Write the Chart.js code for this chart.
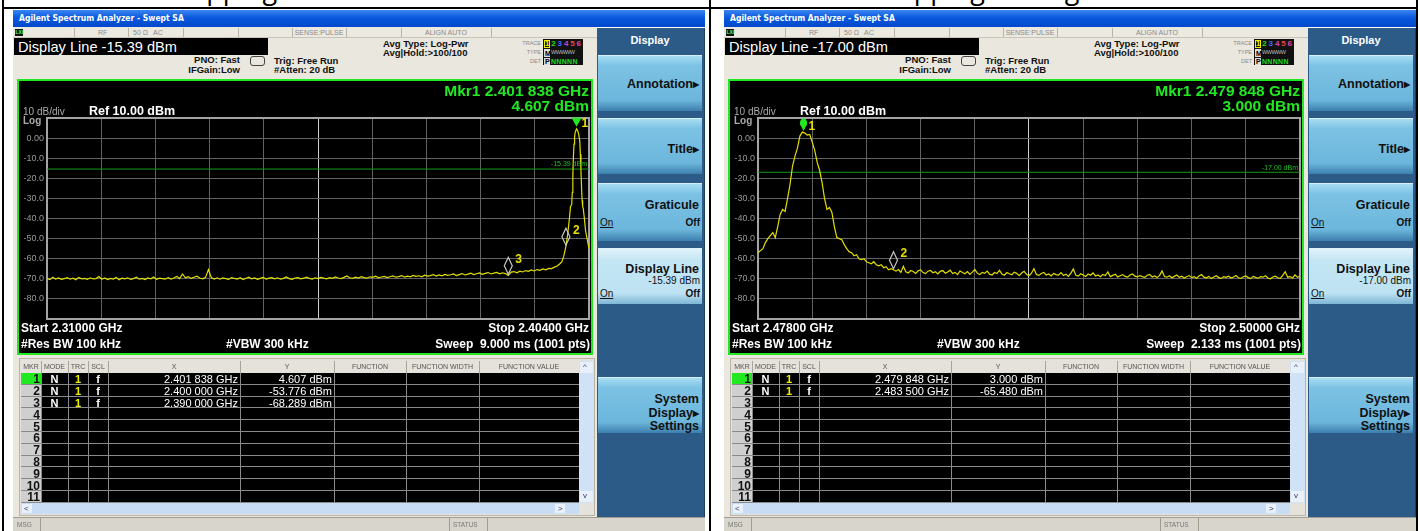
<!DOCTYPE html>
<html><head><meta charset="utf-8">
<script src="https://cdn.jsdelivr.net/npm/chart.js@4.4.0/dist/chart.umd.min.js"></script>
<style>
body{margin:0;background:#fff;}
#page{position:relative;width:1420px;height:531px;overflow:hidden;font-family:"Liberation Sans",Arial,sans-serif;}
.a{position:absolute;white-space:nowrap;}
.scr{position:absolute;top:0;width:711px;height:531px;}
.sk{position:absolute;left:598px;width:104px;background:linear-gradient(#a6dcf2,#7cc2e4 18%,#6cb6dc 80%,#3d7fae);border-top:1px solid #d8f0fa;}
.sk.sel{background:linear-gradient(#e2f3fa,#c4e6f4 20%,#bde2f2 80%,#7fb6d6);}
.skt{position:absolute;right:3px;font-weight:bold;font-size:12.5px;color:#111;text-align:right;}
.tri{font-size:8px;vertical-align:1px;}
.hd{font-size:7px;color:#555;text-align:center;position:absolute;top:361px;height:12px;line-height:12px;}
.info{font-family:"Liberation Sans Narrow","Liberation Sans",Arial;font-weight:bold;font-size:10px;color:#111;}
</style></head><body><div id="page"></div>
<script>
// ---- data ----
const leftTitle = 'Hopping Off Lowest Channel'
const rightTitle = 'Hopping Off Highest Channel'
const leftSpan = [2.310, 2.404]
const rightSpan = [2.478, 2.500]
const levelRange = [-90, 10]

// left trace: noise floor on a 0.5 MHz grid, then the carrier
const leftFloorStart = 2.310
const leftFloorStep = 0.0005
const leftFloorLevels = [-69.8,-70.4,-69.2,-70.1,-69.6,-70.3,-69.9,-69.4,-70.2,-69.7,-70.5,-69.3,-70,-69.8,-70.3,-69.5,-70.1,-69.9,-68.9,-70.2,
-69.6,-70.4,-69.8,-70.1,-69.3,-70.5,-69.7,-70,-69.5,-70.3,-69.9,-69.2,-70.2,-69.8,-70.4,-69.6,-70,-69.1,-70.3,-69.7,
-69.9,-70.2,-69.4,-70.1,-69.6,-68.8,-69.9,-67.6,-69.5,-68.9,-69.8,-69.2,-68.7,-69.6,-70,-69.3,-65.4,-69.4,-70.1,-69.5,
-70.2,-69.6,-69.9,-70.3,-69.4,-69.8,-70.1,-69.5,-70.4,-69.7,-69.2,-70,-69.6,-70.3,-69.8,-69.3,-70.1,-69.7,-69.4,-70,
-69.5,-70.2,-69.8,-69.1,-69.9,-70.3,-69.6,-69.4,-70,-69.7,-69.2,-69.8,-70.1,-69.5,-69.9,-69.3,-69.7,-70,-69.4,-69.8,
-69.1,-69.6,-69.9,-69.3,-68.6,-69.5,-69.8,-69.2,-69.6,-68.9,-69.4,-69.7,-69,-69.3,-68.7,-69.5,-69.1,-68.8,-69.4,-69,
-68.6,-69.2,-68.9,-68.4,-69.1,-68.7,-69,-68.3,-68.8,-68.5,-69,-68.2,-68.7,-68.4,-67.9,-68.6,-68.1,-68.5,-67.8,-68.3,
-68,-67.6,-68.4,-67.9,-67.4,-68.1,-67.7,-67.2,-67.9,-67.5,-67.1,-67.8,-67.3,-66.9,-67.6,-67.2,-66.8,-67.5,-67,-67.4,
-68.3,-66.7,-66.4,-67,-66.2,-66.6,-65.9,-66.3,-65.6,-66.1,-65.4,-65.8,-65.1,-65.5,-64.8,-64.9,-64.2,-63.6,-62.4]
const leftPeakFreqs = [2.3993,2.3996,2.3998,2.4000,2.4003,2.4006,2.4008,2.4010,2.4011,2.4012,2.4013,2.4014,2.4015,2.4016,2.401838,
2.4020,2.4022,2.4024,2.4025,2.4026,2.4027,2.4028,2.4029,2.4030,2.4032,2.4034,2.4036,2.4038,2.4040]
const leftPeakLevels = [-61.5,-59,-56.5,-53.776,-48,-40,-34,-33,-27,-18,-9,-3,0.5,2.8,4.607,
3.9,2.2,-1.5,-8,-16,-24,-31,-34,-35,-40,-46,-49,-52,-55]

// right trace on a 0.1 MHz grid
const rightStart = 2.478
const rightStep = 0.0001
const rightLevels = [-57,-56,-55,-52,-50,-48.5,-47,-49.5,-44,-38,-35.5,-36.5,-30,-23,-14,-9,-5,1,3,2.5,
1.5,1.8,-2,-6,-12,-16,-22,-30,-35.5,-34.5,-37,-44,-49.5,-50,-50.5,-53,-55,-56.5,-57,-58.5,
-58,-60,-60.5,-60,-61.5,-62,-62.5,-61.5,-63,-63.5,-63,-64.5,-64,-65.5,-65,-65.48,
-66.2,-65.4,-66.8,-63.8,-66.5,-67.1,-65.9,-66.4,-67.3,-66,-65.6,-66.9,-67.4,-66.2,-65.8,-67,-66.5,-67.6,-66.3,-65.9,
-67.2,-66.6,-65.7,-67.4,-66.8,-67.9,-66.1,-66.9,-67.5,-66.4,-67.8,-66.7,-65.4,-67.2,-67.9,-66.8,-67.3,-66.2,-67.7,-68.1,
-66.9,-67.4,-65.8,-67.6,-68.2,-66.9,-67.5,-68,-66.7,-67.3,-68.4,-67.1,-66.3,-67.8,-68.5,-67.2,-64.9,-67.9,-68.3,-67.4,
-66.8,-68.1,-67.6,-68.6,-67.3,-67.9,-68.2,-66.9,-68.4,-67.7,-68.8,-67.2,-65.1,-68.3,-68.7,-67.5,-68.1,-68.9,-67.6,-68.2,
-67.1,-68.6,-68.1,-69,-67.8,-68.4,-66.6,-68.9,-68.3,-67.7,-69.1,-68.5,-67.9,-68.8,-69.2,-68.1,-67.6,-68.7,-69,-68.4,
-68.9,-69.3,-68.2,-67.8,-69.1,-68.6,-69.4,-68.3,-66.1,-68.9,-69.2,-68.5,-69.5,-68.8,-68.1,-69.3,-68.7,-69.6,-69,-68.4,
-69.4,-68.9,-69.7,-68.6,-67.9,-69.2,-69.5,-68.8,-69.9,-69.1,-68.5,-69.4,-69.8,-68.9,-69.3,-68.7,-69.6,-69.1,-68.4,-69.5,
-69.8,-69,-68.6,-69.4,-69.9,-68.8,-69.3,-69.7,-68.9,-69.2,-68.5,-69.6,-70,-69.1,-68.7,-69.5,-69.8,-68.3,-66.5,-69.2,-68.9,-69.6,-68.1,-69.3,-68.7]

const leftMarkerFreqs = [2.401838, 2.400000, 2.390000]
const leftMarkerLevels = [4.607, -53.776, -68.289]
const rightMarkerFreqs = [2.479848, 2.483500]
const rightMarkerLevels = [3.000, -65.480]
const leftDisplayLine = -15.39
const rightDisplayLine = -17.00
const leftSweep = '9.000 ms'
const rightSweep = '2.133 ms'

const leftTrace = leftFloorLevels.map((v, i) => ({x: leftFloorStart + i * leftFloorStep, y: v}))
    .concat(leftPeakFreqs.map((f, i) => ({x: f, y: leftPeakLevels[i]})))
const rightTrace = rightLevels.map((v, i) => ({x: rightStart + i * rightStep, y: v}))

const GREEN = '#22e822'
const W = 711

var fmtGHz = f => { var s = f.toFixed(6); return s.slice(0, 5) + ' ' + s.slice(5) + ' GHz' }
var fmtDbm = v => v.toFixed(3) + ' dBm'

// text helpers (cy = vertical centre)
function T(x, cy, s, fs, st) { return `<div class="a" style="left:${x}px;top:${cy - (fs + 2) / 2}px;font-size:${fs}px;line-height:${fs + 2}px;${st || ''}">${s}</div>` }
function R(x, cy, s, fs, st) { return `<div class="a" style="right:${W - x}px;top:${cy - (fs + 2) / 2}px;font-size:${fs}px;line-height:${fs + 2}px;${st || ''}">${s}</div>` }
function Cn(x, cy, s, fs, st) { return `<div class="a" style="left:${x - 100}px;width:200px;text-align:center;top:${cy - (fs + 2) / 2}px;font-size:${fs}px;line-height:${fs + 2}px;${st || ''}">${s}</div>` }
function Bx(x, y, w, h, st) { return `<div class="a" style="left:${x}px;top:${y}px;width:${w}px;height:${h}px;${st || ''}"></div>` }
var info = s => s.replace('class="a"', 'class="a info"')

function screenHtml(cfg) {
    var h = ''
    // title bar
    h += Bx(13, 10, 692, 17, 'background:linear-gradient(#3b86f2,#0a58dc 45%,#0048cc);')
    h += T(19, 18.5, 'Agilent Spectrum Analyzer - Swept SA', 8.5, 'color:#fff;font-weight:bold;font-family:\'DejaVu Sans Condensed\',\'Liberation Sans Narrow\',sans-serif;')
    // beige body
    h += Bx(13, 27, 584, 490, 'background:#e9e7de;')
    // status row
    h += Bx(13, 28, 584, 9, 'background:#ece9e0;border-bottom:1px solid #c8c4b8;')
    ;[74, 128, 183, 238, 292, 346, 401, 491].forEach(x => { h += Bx(x, 28, 1, 9, 'background:#b8b4a8;') })
    h += Bx(15, 29, 8, 7, 'background:#111;')
    h += T(15.5, 32.5, 'LXI', 5, 'color:#5f5;font-weight:bold;')
    var g = 'color:#8a8a8a;'
    h += T(98, 32.5, 'RF', 7, g) + T(133, 32.5, '50 Ω', 7, g) + T(153, 32.5, 'AC', 7, g)
    h += Cn(319, 32.5, 'SENSE:PULSE', 7, g) + Cn(446, 32.5, 'ALIGN AUTO', 7, g)
    // display line box
    h += Bx(14, 38, 254, 17, 'background:#000;')
    h += T(18, 47, 'Display Line ' + cfg.dl.toFixed(2) + ' dBm', 14.6, 'color:#fff;')
    h += info(R(240, 60, 'PNO: Fast', 9.5))
    h += info(R(240, 70, 'IFGain:Low', 9.5))
    h += Bx(250, 56, 13, 8, 'border:1px solid #444;border-radius:3px;')
    h += info(T(274, 61, 'Trig: Free Run', 9.5))
    h += info(T(274, 70, '#Atten: 20 dB', 9.5))
    h += info(T(383, 44, 'Avg Type: Log-Pwr', 9.5))
    h += info(T(383, 53, 'Avg|Hold:&gt;100/100', 9.5))
    // trace / type / det block
    h += R(541, 44, 'TRACE', 5.5, g) + R(541, 53, 'TYPE', 5.5, g) + R(541, 62, 'DET', 5.5, g)
    h += Bx(543, 39, 40, 26, 'background:#111;')
    h += Bx(544, 40, 6, 8, 'border:1px solid #ee0;box-sizing:border-box;')
    var tc = ['#ee0', '#2d2', '#46f', '#c4c', '#e44', '#e4a']
    tc.forEach((c, i) => { h += T(545 + i * 6.3, 44, String(i + 1), 8, 'color:' + c + ';font-weight:bold;') })
    h += Bx(544, 49, 6, 8, 'background:#ddd;')
    h += T(545, 53, 'M', 7, 'color:#000;font-weight:bold;') + T(551, 53, 'WWWWW', 5.5, 'color:#bbb;letter-spacing:-0.5px;')
    h += Bx(544, 58, 6, 7, 'background:#ddd;')
    h += T(545, 61.5, 'P', 7, 'color:#000;font-weight:bold;') + T(551, 61.5, 'NNNNN', 7, 'color:#2d2;font-weight:bold;letter-spacing:0.3px;')
    // graph box
    h += Bx(17, 79, 576, 276, 'background:#000;border:2px solid ' + GREEN + ';box-sizing:border-box;')
    h += `<canvas id="cv${cfg.id}" width="572" height="272" style="position:absolute;left:19px;top:81px;"></canvas>`
    var gb = 'color:' + GREEN + ';font-weight:bold;'
    h += R(589, 91, 'Mkr1 ' + fmtGHz(cfg.mf[0]), 15.5, gb)
    h += R(589, 106, fmtDbm(cfg.ml[0]), 15.5, gb)
    h += T(23, 112, '10 dB/div', 10, 'color:#aaa;') + T(89, 111, 'Ref 10.00 dBm', 12.5, 'color:#fff;font-weight:bold;')
    h += T(23, 121, 'Log', 10, 'color:#aaa;font-weight:bold;')
    var wb = 'color:#fff;font-weight:bold;'
    h += T(21, 328, 'Start ' + cfg.span[0].toFixed(5) + ' GHz', 12, wb)
    h += R(589, 328, 'Stop ' + cfg.span[1].toFixed(5) + ' GHz', 12, wb)
    h += T(21, 344, '#Res BW 100 kHz', 12, wb) + T(226, 344, '#VBW 300 kHz', 12, wb)
    h += R(590, 344, 'Sweep&nbsp; ' + cfg.sweep + ' (1001 pts)', 12, wb)
    // marker table
    h += Bx(19, 358, 576, 158, 'background:#e4e2da;border:1px solid #b8b4a8;box-sizing:border-box;')
    var cols = [[21, 41], [41, 68], [68, 88], [88, 108], [108, 240], [240, 334], [334, 406], [406, 479], [479, 579]]
    var heads = ['MKR', 'MODE', 'TRC', 'SCL', 'X', 'Y', 'FUNCTION', 'FUNCTION WIDTH', 'FUNCTION VALUE']
    cols.forEach((c, i) => {
        h += `<div class="hd" style="left:${c[0]}px;width:${c[1] - c[0]}px;">${heads[i]}</div>`
        h += Bx(c[1], 361, 1, 142, 'background:#a8a49a;')
    })
    var rowH = 11.8, top0 = 373
    h += Bx(21, top0, 558, 130, 'background:#000;')
    for (var r = 0; r < 11; r++) {
        var y0 = top0 + r * rowH, cy = y0 + rowH / 2 + 0.5
        h += Bx(21, y0, 20, rowH, 'background:' + (r === 0 ? GREEN : '#cfcfcf') + ';')
        h += R(40, cy, String(r + 1), 12, 'color:#111;font-weight:bold;')
        if (r < cfg.mf.length) {
            h += Cn(54.5, cy, 'N', 11, 'color:#fff;font-weight:bold;')
            h += Cn(78, cy, '1', 11, 'color:#ee0;font-weight:bold;')
            h += Cn(98, cy, 'f', 11, 'color:#fff;font-weight:bold;')
            h += R(238, cy, fmtGHz(cfg.mf[r]), 11, 'color:#fff;')
            h += R(332, cy, fmtDbm(cfg.ml[r]), 11, 'color:#fff;')
        }
        h += Bx(21, y0 + rowH - 1, 558, 1, 'background:#8a8a8a;')
    }
    cols.forEach(c => { h += Bx(c[1], top0, 1, 130, 'background:#8a8a8a;') })
    // scrollbars
    h += Bx(579, 361, 15, 142, 'background:#cfe2f6;')
    h += Bx(580, 362, 13, 11, 'background:#e8f0fa;') + T(583, 367, '^', 8, 'color:#336;')
    h += Bx(580, 491, 13, 11, 'background:#e8f0fa;') + T(583, 496, 'v', 8, 'color:#336;')
    h += Bx(21, 503, 558, 11, 'background:#c8ddf4;')
    h += Bx(22, 504, 10, 9, 'background:#e8f0fa;') + T(24, 508.5, '&lt;', 8, 'color:#336;')
    h += Bx(555, 504, 10, 9, 'background:#e8f0fa;') + T(558, 508.5, '&gt;', 8, 'color:#336;')
    // softkeys
    h += Bx(597, 28, 107, 489, 'background:#2d5b88;border-right:1px solid #1c3e60;')
    h += Cn(650, 40, 'Display', 11, 'color:#fff;font-weight:bold;')
    var keys = [
        [55, 55, false, [['Annotation<span class="tri">▶</span>', 28]]],
        [118, 55, false, [['Title<span class="tri">▶</span>', 30]]],
        [183, 57, false, [['Graticule', 21]]],
        [248, 55, true, [['Display Line', 20]]],
        [377, 55, false, [['System', 21], ['Display<span class="tri">▶</span>', 35], ['Settings', 48]]]
    ]
    keys.forEach(k => {
        h += `<div class="sk${k[2] ? ' sel' : ''}" style="top:${k[0]}px;height:${k[1]}px;">`
        k[3].forEach(t => { h += `<div class="skt" style="top:${t[1] - 8}px;line-height:16px;">${t[0]}</div>` })
        h += '</div>'
    })
    var onoff = 'color:#111;'
    h += T(600, 223, '<u>On</u>', 10, onoff) + R(700, 223, 'Off', 10, onoff + 'font-weight:bold;')
    h += R(700, 281, cfg.dl.toFixed(2) + ' dBm', 10, onoff)
    h += T(600, 294, '<u>On</u>', 10, onoff) + R(700, 294, 'Off', 10, onoff + 'font-weight:bold;')
    // status bar
    h += Bx(13, 517, 692, 14, 'background:#d8d5cc;border-top:1px solid #a09c90;')
    h += Bx(40, 518, 1, 13, 'background:#a09c90;') + Bx(449, 518, 1, 13, 'background:#a09c90;') + Bx(487, 518, 1, 13, 'background:#a09c90;')
    h += T(17, 525, 'MSG', 6.5, 'color:#777;') + T(453, 525, 'STATUS', 6.5, 'color:#777;')
    return h
}

function markerPlugin(cfg) {
    return {
        id: 'mk' + cfg.id,
        beforeDatasetsDraw(chart) {
            var c = chart.ctx, a = chart.chartArea
            c.save()
            c.strokeStyle = '#a4a4a4'
            c.lineWidth = 2
            c.strokeRect(a.left, a.top, a.right - a.left, a.bottom - a.top)
            c.restore()
        },
        afterDatasetsDraw(chart) {
            var c = chart.ctx, xs = chart.scales.x, ys = chart.scales.y, a = chart.chartArea
            c.save()
            var yl = ys.getPixelForValue(cfg.dl)
            c.font = '7px "Liberation Sans"'
            c.fillStyle = '#22c022'
            c.textAlign = 'right'
            c.textBaseline = 'bottom'
            c.fillText(cfg.dl.toFixed(2) + ' dBm', a.right - 2, yl - 1)
            cfg.mf.forEach((f, i) => {
                var px = xs.getPixelForValue(f), py = ys.getPixelForValue(cfg.ml[i])
                if (i === 0) {
                    c.fillStyle = GREEN
                    c.beginPath()
                    if (cfg.shape === 'tri') {
                        c.moveTo(px - 5, py - 11); c.lineTo(px + 5, py - 11); c.lineTo(px, py - 2)
                    } else {
                        c.ellipse(px, py - 9, 3.6, 4.6, 0, 0, Math.PI * 2)
                        c.moveTo(px - 3, py - 7); c.lineTo(px + 3, py - 7); c.lineTo(px, py - 1)
                    }
                    c.fill()
                } else {
                    c.strokeStyle = '#c8c8c8'
                    c.lineWidth = 1.2
                    c.beginPath()
                    c.moveTo(px, py - 18); c.lineTo(px + 4, py - 9.5); c.lineTo(px, py - 1); c.lineTo(px - 4, py - 9.5)
                    c.closePath()
                    c.stroke()
                }
                c.fillStyle = '#e6e000'
                c.font = 'bold 12px "Liberation Sans"'
                c.textAlign = 'left'
                c.textBaseline = 'middle'
                c.fillText(String(i + 1), px + (i === 0 ? 5 : 7), py - (i === 0 ? 5 : 16))
            })
            c.restore()
        }
    }
}

function makeChart(cfg) {
    var ctx = document.getElementById('cv' + cfg.id)
    return new Chart(ctx, {
        type: 'line',
        data: {
            datasets: [{
                data: cfg.trace,
                borderColor: '#e2de00',
                borderWidth: 1.2,
                pointRadius: 0,
                tension: 0
            }, {
                data: [{x: cfg.span[0], y: cfg.dl}, {x: cfg.span[1], y: cfg.dl}],
                borderColor: '#169a16',
                borderWidth: 1,
                pointRadius: 0
            }]
        },
        options: {
            responsive: false,
            animation: false,
            devicePixelRatio: 1,
            layout: {padding: {left: 0, right: 2, top: 37, bottom: 34}},
            plugins: {legend: {display: false}, tooltip: {enabled: false}},
            scales: {
                x: {
                    type: 'linear', min: cfg.span[0], max: cfg.span[1],
                    ticks: {display: false, count: 11},
                    grid: {color: c => c.index === 5 ? '#d0d0d0' : '#626262', drawTicks: false},
                    border: {display: false},
                    afterFit: s => { s.height = 0 }
                },
                y: {
                    min: levelRange[0], max: levelRange[1],
                    ticks: {
                        stepSize: 10, padding: 3, color: '#9a9a9a',
                        font: {size: 9, family: 'Liberation Sans'},
                        callback: v => (v === levelRange[1] || v === levelRange[0]) ? '' : (v === 0 ? '0.00' : v.toFixed(1))
                    },
                    grid: {color: '#626262', drawTicks: false},
                    border: {display: false},
                    afterFit: s => { s.width = 28 }
                }
            }
        },
        plugins: [markerPlugin(cfg)]
    })
}

var screens = [
    {id: 0, ox: 0, title: leftTitle, span: leftSpan, trace: leftTrace, mf: leftMarkerFreqs, ml: leftMarkerLevels, dl: leftDisplayLine, sweep: leftSweep, shape: 'tri'},
    {id: 1, ox: 711, title: rightTitle, span: rightSpan, trace: rightTrace, mf: rightMarkerFreqs, ml: rightMarkerLevels, dl: rightDisplayLine, sweep: rightSweep, shape: 'pin'}
]

var page = document.getElementById('page')
var out = ''
// clipped cell headings + table borders
screens.forEach(s => {
    out += `<div class="a" style="left:${s.ox}px;top:0;width:711px;height:7px;overflow:hidden;"><div class="a" style="left:0;width:700px;text-align:center;top:-26px;font-family:'Open Sans';font-size:27px;line-height:30px;color:#000;">${s.title}</div></div>`
})
out += Bx(2, 7, 1416, 2, 'background:#000;')
out += Bx(2, 0, 2, 531, 'background:#000;') + Bx(709, 0, 2, 531, 'background:#000;') + Bx(1416, 0, 2, 531, 'background:#000;')
screens.forEach(s => {
    out += `<div class="scr" style="left:${s.ox}px;">${screenHtml(s)}</div>`
})
page.innerHTML = out

Chart.defaults.font.family = 'Liberation Sans'
screens.forEach(s => makeChart(s))
</script></body></html>
